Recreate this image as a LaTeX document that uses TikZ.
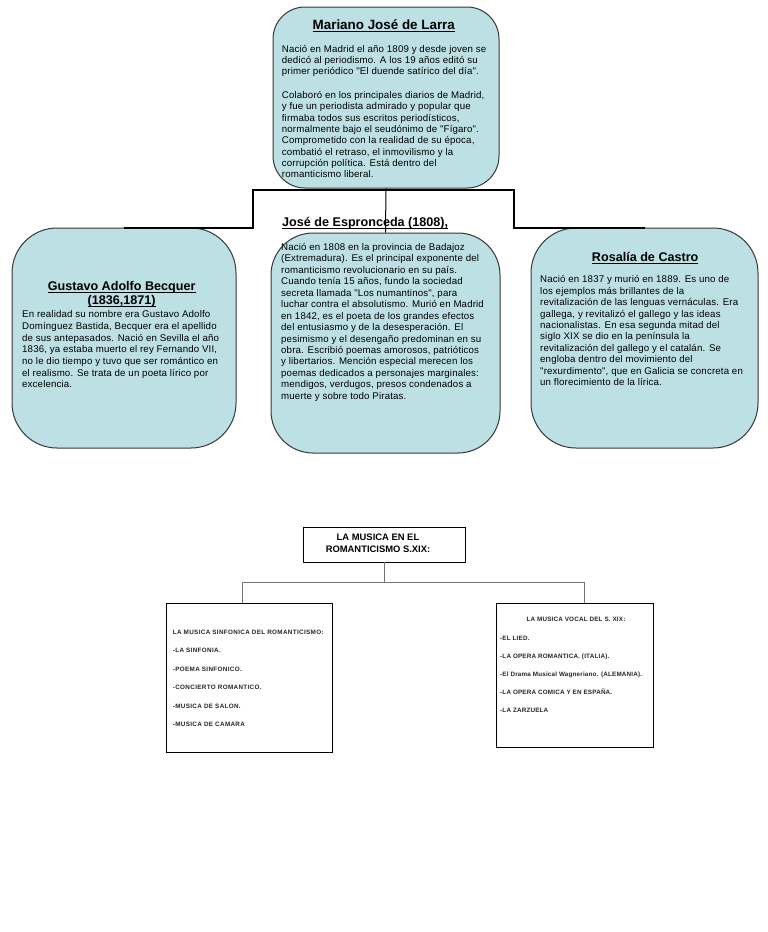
\documentclass[tikz,border=0pt]{standalone}
\usepackage{fontspec}
\setmainfont{Liberation Sans}
\newfontfamily\bodysp[LetterSpace=1.5]{Liberation Sans}
\newfontfamily\tinysp[LetterSpace=5.5]{Liberation Sans}
\newfontfamily\tinyvo[LetterSpace=3]{Liberation Sans}
\definecolor{boxblue}{RGB}{188,224,228}
\definecolor{boxedge}{RGB}{55,55,55}
\newcommand{\ulx}[1]{\setbox0=\hbox{#1}\rlap{\rule[-2.2pt]{\wd0}{0.9pt}}\box0}
\begin{document}
\begin{tikzpicture}[x=1pt,y=-1pt,
  bio/.style={draw=boxedge, line width=1pt, fill=boxblue, rounded corners=#1, inner sep=0pt},
  plainbox/.style={draw=black, line width=0.9pt, fill=white, inner sep=0pt},
  body/.style={anchor=north west, inner sep=0pt, align=left, font=\bodysp\fontsize{9.7}{11.45}\selectfont},
  ttl/.style={anchor=base, inner sep=0pt, font=\fontsize{12.6}{13}\selectfont\bfseries},
  tiny/.style={inner sep=0pt, align=left, text=black!85, font=\tinysp\bfseries\fontsize{6.3}{18.4}\selectfont},
  tinyv/.style={inner sep=0pt, align=left, text=black!85, font=\tinyvo\bfseries\fontsize{6.3}{17.9}\selectfont},
  thickconn/.style={draw=black, line width=2pt},
  thinconn/.style={draw=black, line width=1pt},
  greyconn/.style={draw=black!55, line width=1pt}]
\useasboundingbox (0,0) rectangle (768,932);

% ---------- blue boxes ----------
\node[bio=32, minimum width=226pt, minimum height=181pt] (larra) at (386,97.5) {};
\node[bio=45, minimum width=224pt, minimum height=220pt] (becquer) at (124,338) {};
\node[bio=42, minimum width=229pt, minimum height=220pt] (espron) at (385.5,343) {};
\node[bio=45, minimum width=227pt, minimum height=220pt] (castro) at (644.5,338) {};

% ---------- connectors (top) ----------
\coordinate (hl) at (253,190);
\coordinate (hr) at (514,190);
\draw[thickconn] (becquer.north) -| (hl) -- (hr) |- (castro.north);
\draw[thinconn] (larra.south) -- (espron.north);

% ---------- Larra ----------
\node[ttl, font=\fontsize{13.4}{14}\selectfont\bfseries] (larrat) at (383.8,29.6) {\ulx{Mariano José de Larra}};
\node[body] (larrap1) at (281.7,43.8) {\rule{0pt}{8pt}Nació en Madrid el año 1809 y desde joven se\\
dedicó al periodismo. A los 19 años editó su\\
primer periódico "El duende satírico del día".};
\node[body, font=\bodysp\fontsize{9.7}{11.33}\selectfont] (larrap2) at (281.7,90.2) {\rule{0pt}{8pt}Colaboró en los principales diarios de Madrid,\\
y fue un periodista admirado y popular que\\
firmaba todos sus escritos periodísticos,\\
normalmente bajo el seudónimo de "Fígaro".\\
Comprometido con la realidad de su época,\\
combatió el retraso, el inmovilismo y la\\
corrupción política. Está dentro del\\
romanticismo liberal.};

% ---------- Becquer ----------
\node[ttl] (bect1) at (121.7,290.7) {\ulx{Gustavo Adolfo Becquer}};
\node[ttl] (bect2) at (121.7,304.3) {\ulx{(1836,1871)}};
\node[body, font=\bodysp\fontsize{9.7}{11.67}\selectfont] (becp) at (22,309.5) {\rule{0pt}{8pt}En realidad su nombre era Gustavo Adolfo\\
Domínguez Bastida, Becquer era el apellido\\
de sus antepasados. Nació en Sevilla el año\\
1836, ya estaba muerto el rey Fernando VII,\\
no le dio tiempo y tuvo que ser romántico en\\
el realismo. Se trata de un poeta lírico por\\
excelencia.};

% ---------- Espronceda ----------
\node[ttl, anchor=base west] (espt) at (282,226.5) {\ulx{José de Espronceda (1808),}};
\node[body] (espp) at (281,242.2) {\rule{0pt}{8pt}Nació en 1808 en la provincia de Badajoz\\
(Extremadura). Es el principal exponente del\\
romanticismo revolucionario en su país.\\
Cuando tenía 15 años, fundo la sociedad\\
secreta llamada "Los numantinos", para\\
luchar contra el absolutismo. Murió en Madrid\\
en 1842, es el poeta de los grandes efectos\\
del entusiasmo y de la desesperación. El\\
pesimismo y el desengaño predominan en su\\
obra. Escribió poemas amorosos, patrióticos\\
y libertarios. Mención especial merecen los\\
poemas dedicados a personajes marginales:\\
mendigos, verdugos, presos condenados a\\
muerte y sobre todo Piratas.};

% ---------- Castro ----------
\node[ttl] (cast) at (645.2,261.5) {\ulx{Rosalía de Castro}};
\node[body] (casp) at (540,274.5) {\rule{0pt}{8pt}Nació en 1837 y murió en 1889. Es uno de\\
los ejemplos más brillantes de la\\
revitalización de las lenguas vernáculas. Era\\
gallega, y revitalizó el gallego y las ideas\\
nacionalistas. En esa segunda mitad del\\
siglo XIX se dio en la península la\\
revitalización del gallego y el catalán. Se\\
engloba dentro del movimiento del\\
"rexurdimento", que en Galicia se concreta en\\
un florecimiento de la lírica.};

% ---------- Music section ----------
\node[plainbox, minimum width=162pt, minimum height=35pt] (musica) at (384,544.5) {};
\node[inner sep=0pt, align=center, anchor=north, font=\fontsize{9.4}{12.7}\selectfont\bfseries] (musicat) at (378,532) {\rule{0pt}{8pt}LA MUSICA EN EL\\ROMANTICISMO S.XIX:};

\node[plainbox, minimum width=165.3pt, minimum height=149pt] (sinf) at (249.3,677.5) {};
\node[plainbox, minimum width=157pt, minimum height=144pt] (vocal) at (574.5,675) {};

\coordinate (bl) at (242,582);
\coordinate (br) at (584,582);
\draw[greyconn] (musica.south) -- (musica.south |- bl);
\draw[greyconn] (bl |- sinf.north) -- (bl) -- (br) -- (br |- vocal.north);

\node[tiny, anchor=north west] (sinft) at (172.7,629.3) {\rule{0pt}{5pt}LA MUSICA SINFONICA DEL ROMANTICISMO:\\
-LA SINFONIA.\\
-POEMA SINFONICO.\\
-CONCIERTO ROMANTICO.\\
-MUSICA DE SALON.\\
-MUSICA DE CAMARA};

\node[tinyv, anchor=base] (vocalh) at (576,621) {LA MUSICA VOCAL DEL S. XIX:};
\node[tinyv, anchor=north west] (vocalt) at (500,635.3) {\rule{0pt}{5pt}-EL LIED.\\
-LA OPERA ROMANTICA. (ITALIA).\\
-El Drama Musical Wagneriano. (ALEMANIA).\\
-LA OPERA COMICA Y EN ESPAÑA.\\
-LA ZARZUELA};
\end{tikzpicture}
\end{document}
